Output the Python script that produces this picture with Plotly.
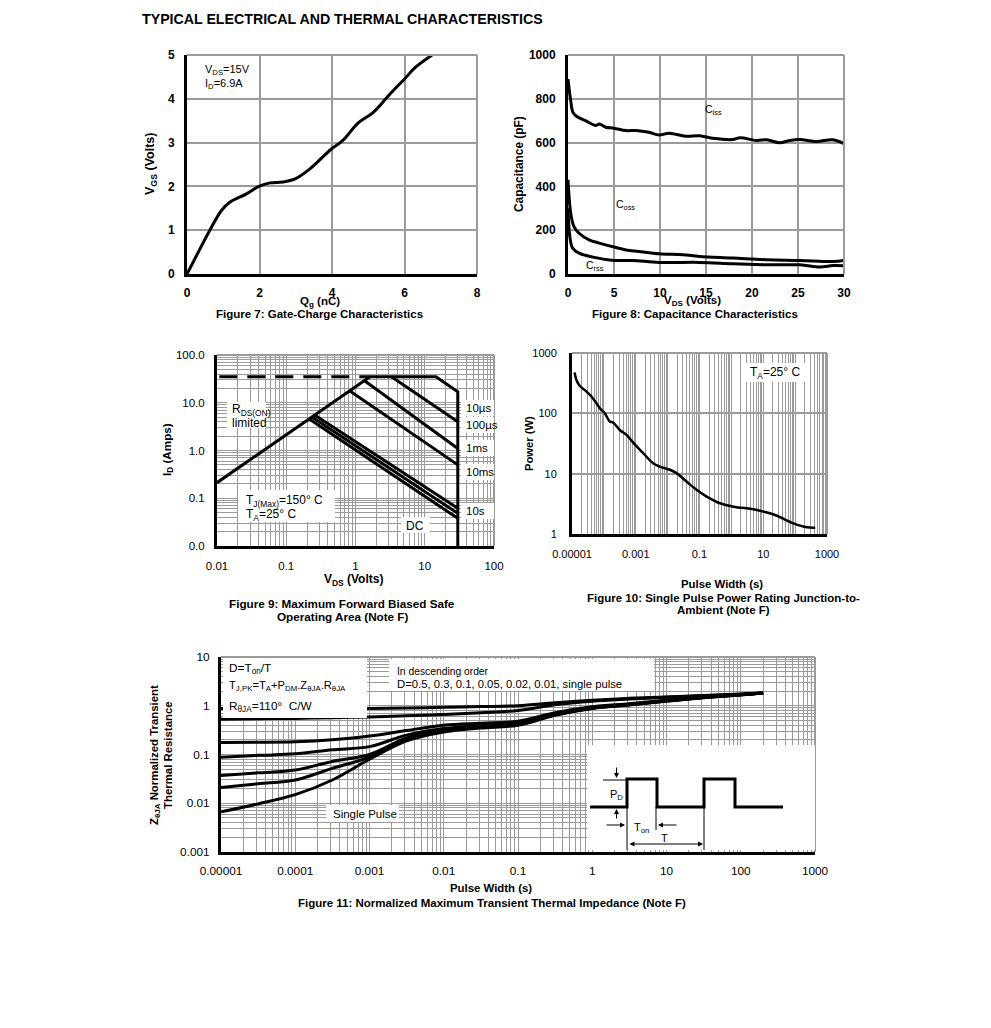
import plotly.graph_objects as go

W, H = 991, 1028
FONT = "Liberation Sans, Arial, sans-serif"

# ---------------- Figure 7 data: gate charge ----------------
qg_nc = [0, 0.3, 0.63, 0.95, 1.18, 1.64, 1.98, 2.29, 2.65, 2.98, 3.39, 3.99, 4.3, 4.71, 5.14, 5.6, 6.02, 6.29, 6.76]
vgs_v = [0, 0.48, 1.0, 1.45, 1.64, 1.83, 2.0, 2.08, 2.1, 2.17, 2.4, 2.86, 3.05, 3.44, 3.69, 4.11, 4.47, 4.71, 5.0]

# ---------------- Figure 8 data: capacitance ----------------
ciss_vds = [0, 0.3, 0.55, 1, 1.9, 3, 3.4, 4.1, 5, 6.3, 7.4, 8.8, 9.9, 11, 12.8, 14.3, 15.7, 17.9, 18.7, 20.5, 21.6, 23, 24.1, 25.2, 27, 28.8, 30]
ciss_pf = [890, 790, 737, 718, 700, 678, 685, 670, 666, 655, 655, 647, 635, 643, 629, 631, 620, 614, 622, 610, 613, 599, 610, 614, 605, 613, 595]
coss_vds = [0, 0.3, 0.65, 1.2, 2.3, 3.4, 5, 6.3, 7.7, 9.9, 12.5, 14.3, 17.9, 21.6, 25.2, 28.8, 30]
coss_pf = [430, 277, 216, 186, 156, 141, 123, 110, 103, 92, 88, 80, 73, 65, 62, 57, 62]
crss_vds = [0, 0.2, 0.5, 1.2, 2.7, 5, 7, 9.9, 14.3, 17.9, 21.6, 25.2, 27.4, 28.8, 30]
crss_pf = [300, 171, 118, 95, 77, 62, 62, 53, 53, 47, 42, 42, 32, 39, 38]

# ---------------- Figure 9 data: SOA ----------------
rds_vds = [0.01, 1.62]
rds_id = [0.212, 35]
dash_vds = [0.0108, 1.62]
dash_id = [35, 35]
soa_10us_vds = [1.62, 14.5, 30, 30]
soa_10us_id = [35, 35, 17, 0.01]
soa_100us_vds = [3.3, 30]
soa_100us_id = [35, 4.0]
soa_1ms_vds = [1.35, 30]
soa_1ms_id = [29, 1.1]
soa_10ms_vds = [0.83, 30]
soa_10ms_id = [17.6, 0.5]
soa_100ms_vds = [0.26, 30]
soa_100ms_id = [5.5, 0.0615]
soa_10s_vds = [0.235, 30]
soa_10s_id = [5.0, 0.0483]
soa_dc_vds = [0.215, 30]
soa_dc_id = [4.55, 0.0379]

# ---------------- Figure 10 data: single pulse power ----------------
pw10_s = [1.2e-5, 1.43e-5, 1.74e-5, 2.8e-5, 4.06e-5, 5.8e-5, 7.4e-5, 1.06e-4, 1.53e-4, 1.94e-4, 3.15e-4,
          5.1e-4, 8.3e-4, 1.71e-3, 3.5e-3, 5.7e-3, 0.0118, 0.0191, 0.039, 0.081, 0.168, 0.44, 1.16, 4.9,
          10.1, 26.7, 89, 234, 427]
power_w = [477, 339, 287, 231, 190, 148, 122, 101, 73.5, 70.6, 53, 44, 32.8, 21.9, 14.9, 13.1, 11.6, 10.2,
           7.4, 5.4, 4.17, 3.23, 2.84, 2.57, 2.35, 2.01, 1.5, 1.29, 1.27]

# ---------------- Figure 11 data: transient thermal impedance ----------------
pw11_s = [0.00001, 0.0000316, 0.0001, 0.000316, 0.001, 0.00316, 0.01, 0.0316, 0.1, 0.316, 1, 3.16, 10, 31.6, 100, 200]
z_d050 = [0.88, 0.88, 0.88, 0.88, 0.88, 0.9, 0.93, 0.96, 1.0, 1.15, 1.3, 1.42, 1.52, 1.62, 1.74, 1.82]
z_d030 = [0.53, 0.54, 0.55, 0.57, 0.59, 0.62, 0.66, 0.72, 0.8, 1.05, 1.24, 1.37, 1.49, 1.6, 1.73, 1.82]
z_d010 = [0.177, 0.178, 0.182, 0.2, 0.24, 0.31, 0.4, 0.44, 0.48, 0.72, 0.95, 1.1, 1.3, 1.5, 1.7, 1.82]
z_d005 = [0.088, 0.096, 0.103, 0.125, 0.145, 0.25, 0.34, 0.39, 0.43, 0.68, 0.92, 1.08, 1.28, 1.49, 1.69, 1.82]
z_d002 = [0.037, 0.042, 0.048, 0.072, 0.1, 0.22, 0.32, 0.37, 0.42, 0.66, 0.9, 1.06, 1.26, 1.48, 1.68, 1.82]
z_d001 = [0.021, 0.025, 0.03, 0.052, 0.088, 0.2, 0.3, 0.36, 0.41, 0.65, 0.89, 1.05, 1.25, 1.47, 1.68, 1.82]
z_single = [0.0067, 0.0097, 0.015, 0.03, 0.08, 0.19, 0.29, 0.35, 0.4, 0.64, 0.88, 1.04, 1.24, 1.46, 1.67, 1.82]

# tick labels
soa_xticks = ["0.01", "0.1", "1", "10", "100"]
soa_yticks = ["0.0", "0.1", "1.0", "10.0", "100.0"]
pw10_xticks = ["0.00001", "0.001", "0.1", "10", "1000"]
pw10_yticks = ["1", "10", "100", "1000"]
pw11_xticks = ["0.00001", "0.0001", "0.001", "0.01", "0.1", "1", "10", "100", "1000"]
pw11_yticks = ["0.001", "0.01", "0.1", "1", "10"]


def px(X):
    return X / W


def py(Y):
    return 1 - Y / H


fig = go.Figure()
BLK = "black"


def line(x, y, xa, ya, width=3, shape="linear", dash="solid"):
    fig.add_trace(go.Scatter(x=x, y=y, xaxis=xa, yaxis=ya, mode="lines", showlegend=False,
                             line=dict(color=BLK, width=width, shape=shape, dash=dash),
                             hoverinfo="skip"))


line(qg_nc, vgs_v, "x", "y", 3, "spline")
line(ciss_vds, ciss_pf, "x2", "y2", 3, "spline")
line(coss_vds, coss_pf, "x2", "y2", 3, "spline")
line(crss_vds, crss_pf, "x2", "y2", 3, "spline")

line(dash_vds, dash_id, "x3", "y3", 3, dash="18px,10px")
line(rds_vds, rds_id, "x3", "y3", 3)
for xs, ys in [(soa_10us_vds, soa_10us_id), (soa_100us_vds, soa_100us_id), (soa_1ms_vds, soa_1ms_id),
               (soa_10ms_vds, soa_10ms_id), (soa_100ms_vds, soa_100ms_id), (soa_10s_vds, soa_10s_id),
               (soa_dc_vds, soa_dc_id)]:
    line(xs, ys, "x3", "y3", 3)

line(pw10_s, power_w, "x4", "y4", 2.5, "spline")

for z in [z_d050, z_d030, z_d010, z_d005, z_d002, z_d001, z_single]:
    line(pw11_s, z, "x5", "y5", 3, "spline")

GRID = "#9a9a9a"


def tf(size, bold=False):
    return dict(family=FONT, size=size, color="black", weight="bold" if bold else "normal")


def dom_x(a, b):
    return [px(a), px(b)]


def dom_y(top, bottom):
    return [py(bottom), py(top)]


common = dict(showline=True, linecolor=BLK, linewidth=3, zeroline=False, ticks="", automargin=False)
minor_grid = dict(dtick="D1", showgrid=True, gridcolor=GRID, gridwidth=1)

layout_axes = dict(
    xaxis=dict(domain=dom_x(187, 477), range=[0, 8], dtick=2, anchor="y", gridcolor=GRID, gridwidth=2,
               tickfont=tf(12, True), ticklabelstandoff=6, **common),
    yaxis=dict(domain=dom_y(55, 274), range=[0, 5], dtick=1, anchor="x", gridcolor=GRID, gridwidth=2,
               tickfont=tf(12, True), ticklabelstandoff=7, **common),
    xaxis2=dict(domain=dom_x(568, 844), range=[0, 30], dtick=5, anchor="y2", gridcolor=GRID, gridwidth=2,
                tickfont=tf(12, True), ticklabelstandoff=6, **common),
    yaxis2=dict(domain=dom_y(55, 274), range=[0, 1000], dtick=200, anchor="x2", gridcolor=GRID, gridwidth=2,
                tickfont=tf(12, True), ticklabelstandoff=7, **common),
    xaxis3=dict(domain=dom_x(217, 494), type="log", range=[-2, 2], anchor="y3", gridcolor=GRID, gridwidth=1,
                tickvals=[0.01, 0.1, 1, 10, 100], ticktext=soa_xticks, tickfont=tf(11.5), ticklabelstandoff=7,
                minor=minor_grid, **common),
    yaxis3=dict(domain=dom_y(355, 546), type="log", range=[-2, 2], anchor="x3", gridcolor=GRID, gridwidth=1,
                tickvals=[0.01, 0.1, 1, 10, 100], ticktext=soa_yticks, tickfont=tf(11.5), ticklabelstandoff=7,
                minor=minor_grid, **common),
    xaxis4=dict(domain=dom_x(572, 827), type="log", range=[-5, 3], anchor="y4", gridcolor=GRID, gridwidth=1,
                tickvals=[1e-5, 1e-3, 0.1, 10, 1000], ticktext=pw10_xticks, tickfont=tf(11),
                ticklabelstandoff=8, minor=minor_grid, **common),
    yaxis4=dict(domain=dom_y(353, 534), type="log", range=[0, 3], anchor="x4", gridcolor=GRID, gridwidth=2,
                tickvals=[1, 10, 100, 1000], ticktext=pw10_yticks, tickfont=tf(11), ticklabelstandoff=10,
                **common),
    xaxis5=dict(domain=dom_x(221, 815), type="log", range=[-5, 3], anchor="y5", gridcolor=GRID, gridwidth=1,
                tickvals=[1e-5, 1e-4, 1e-3, 0.01, 0.1, 1, 10, 100, 1000], ticktext=pw11_xticks,
                tickfont=tf(11.8), ticklabelstandoff=6, minor=minor_grid, **common),
    yaxis5=dict(domain=dom_y(657, 852), type="log", range=[-3, 1], anchor="x5", gridcolor=GRID, gridwidth=1,
                tickvals=[0.001, 0.01, 0.1, 1, 10], ticktext=pw11_yticks, tickfont=tf(11.8),
                ticklabelstandoff=6, minor=minor_grid, **common),
)

shapes = []
annotations = []


def rect(x0, y0, x1, y1, fill="white", color=None, width=0, layer="above"):
    shapes.append(dict(type="rect", xref="paper", yref="paper", x0=px(x0), x1=px(x1), y0=py(y1), y1=py(y0),
                       fillcolor=fill, line=dict(color=color or "rgba(0,0,0,0)", width=width), layer=layer))


def seg(x0, y0, x1, y1, width=1, color="black"):
    shapes.append(dict(type="line", xref="paper", yref="paper", x0=px(x0), x1=px(x1), y0=py(y0), y1=py(y1),
                       line=dict(color=color, width=width), layer="above"))


def text(X, Y, s, size=11, bold=False, xanchor="center", angle=0, yanchor="middle"):
    annotations.append(dict(xref="paper", yref="paper", x=px(X), y=py(Y), text=s, showarrow=False,
                            xanchor=xanchor, yanchor=yanchor, textangle=angle,
                            font=tf(size, bold)))


def arrow(hx, hy, tx, ty, side="end"):
    annotations.append(dict(xref="paper", yref="paper", x=px(hx), y=py(hy), ax=tx - hx, ay=ty - hy,
                            axref="pixel", ayref="pixel", text="", showarrow=True, arrowhead=2,
                            arrowsize=1, arrowwidth=1, arrowcolor="black", arrowside=side, standoff=0,
                            startstandoff=0))


# grey borders (top/right)
for (l, t, r, b) in [(187, 55, 477, 274), (568, 55, 844, 274), (217, 355, 494, 546), (572, 353, 827, 534),
                     (221, 657, 815, 852)]:
    seg(l, t, r, t, 2, GRID)
    seg(r, t, r, b, 2, GRID)

# Title
text(140, 19, "TYPICAL ELECTRICAL AND THERMAL CHARACTERISTICS", 14.2, True, "left")

# ---- Fig 7 texts
text(203, 70, "V<sub>DS</sub>=15V", 11, False, "left")
text(203, 84, "I<sub>D</sub>=6.9A", 11, False, "left")
text(320, 302, "Q<sub>g</sub> (nC)", 11.5, True)
text(319, 314, "Figure 7: Gate-Charge Characteristics", 11.5, True)
text(151, 164, "V<sub>GS</sub> (Volts)", 12.5, True, angle=-90)

# ---- Fig 8 texts
text(703, 110, "C<sub>iss</sub>", 10.5, False, "left")
text(614, 205, "C<sub>oss</sub>", 10.5, False, "left")
text(584, 266, "C<sub>rss</sub>", 10.5, False, "left")
text(692, 301, "V<sub>DS</sub> (Volts)", 11.5, True)
text(695, 314, "Figure 8: Capacitance Characteristics", 11.5, True)
text(519, 164, "Capacitance (pF)", 11.9, True, angle=-90)

# ---- Fig 9 texts
rect(227, 402, 266, 428)
text(230, 410, "R<sub>DS(ON)</sub>", 12, False, "left")
text(230, 423, "limited", 12, False, "left")
rect(238, 490, 335, 522)
text(244, 501, "T<sub>J(Max)</sub>=150° C", 12, False, "left")
text(244, 515, "T<sub>A</sub>=25° C", 12, False, "left")
rect(401, 517, 430, 533)
text(404, 526, "DC", 12, False, "left")
for Y, s in [(408, "10µs"), (425, "100µs"), (448, "1ms"), (472, "10ms"), (511, "10s")]:
    rect(461, Y - 8, 494, Y + 8)
    text(464, Y, s, 11.5, False, "left")
text(353, 580, "V<sub>DS</sub> (Volts)", 12, True)
text(342, 603, "Figure 9: Maximum Forward Biased Safe", 11.7, True)
text(342, 616, "Operating Area (Note F)", 11.7, True)
text(167, 450, "I<sub>D</sub> (Amps)", 11.7, True, angle=-90)

# ---- Fig 10 texts
rect(742, 363, 806, 382)
text(748, 373, "T<sub>A</sub>=25° C", 12, False, "left")
text(529, 444, "Power (W)", 11.2, True, angle=-90)
text(722, 584, "Pulse Width (s)", 11.4, True)
text(723, 598, "Figure 10: Single Pulse Power Rating Junction-to-", 11.5, True)
text(723, 610, "Ambient (Note F)", 11.5, True)

# ---- Fig 11 texts
rect(223, 658, 367, 718)
text(227, 668, "D=T<sub>on</sub>/T", 11.8, False, "left")
text(227, 686, "T<sub>J,PK</sub>=T<sub>A</sub>+P<sub>DM</sub>.Z<sub>θJA</sub>.R<sub>θJA</sub>", 11.2, False, "left")
text(227, 706, "R<sub>θJA</sub>=110°&nbsp; C/W", 11.8, False, "left")
rect(389, 659, 654, 691)
text(395, 671, "In descending order", 10.3, False, "left")
text(395, 684, "D=0.5, 0.3, 0.1, 0.05, 0.02, 0.01, single pulse", 11.3, False, "left")
rect(326, 805, 399, 822)
text(331, 814, "Single Pulse", 11.5, False, "left")
text(155, 755, "Z<sub>θJA</sub> Normalized Transient", 11.4, True, angle=-90)
text(168, 755, "Thermal Resistance", 11.4, True, angle=-90)
text(491, 888, "Pulse Width (s)", 11.4, True)
text(492, 903, "Figure 11: Normalized Maximum Transient Thermal Impedance (Note F)", 11.5, True)

# inset diagram
rect(587, 745, 815, 850)
wave = [(590, 807), (627, 807), (627, 779), (657, 779), (657, 807), (704, 807), (704, 779), (735, 779),
        (735, 807), (783, 807)]
path = "M " + " L ".join(f"{px(a)},{py(b)}" for a, b in wave)
shapes.append(dict(type="path", xref="paper", yref="paper", path=path, line=dict(color="black", width=3),
                   layer="above"))
seg(603, 780, 627, 780, 1)
seg(627, 807, 627, 850, 1)
seg(656, 807, 656, 830, 1)
seg(704, 807, 704, 850, 1)
arrow(616.5, 778, 616.5, 766)
arrow(616.5, 809, 616.5, 820)
arrow(625, 825, 605, 825)
arrow(658, 825, 678, 825)
arrow(703, 844, 628, 844, "end+start")
text(616, 795, "P<sub>D</sub>", 11)
text(641, 828, "T<sub>on</sub>", 11)
text(664, 838, "T", 11)

fig.update_layout(width=W, height=H, autosize=False,
                  margin=dict(l=0, r=0, t=0, b=0, pad=0, autoexpand=False), paper_bgcolor="white",
                  plot_bgcolor="white", showlegend=False, shapes=shapes, annotations=annotations,
                  font=dict(family=FONT, size=11, color="black"), **layout_axes)

fig.write_html("out.html", config={"responsive": False, "displayModeBar": False},
               post_script="document.body.style.margin='0px';")
